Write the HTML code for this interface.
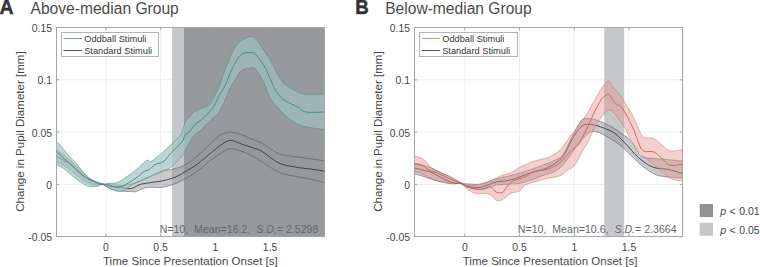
<!DOCTYPE html>
<html><head><meta charset="utf-8">
<style>
html,body{margin:0;padding:0;background:#fff;}
body{width:760px;height:267px;position:relative;overflow:hidden;font-family:"Liberation Sans",sans-serif;}
svg{position:absolute;left:0;top:0;}
text{font-family:"Liberation Sans",sans-serif;}
.tk{font-size:10.4px;fill:#474747;}
.big{font-weight:bold;font-size:19px;fill:#333;}
.title{font-size:15.6px;fill:#4b4b4b;}
.xl{font-size:11.55px;fill:#474747;}
.lg{font-size:9.25px;fill:#363636;}
.ann{font-size:10.6px;fill:#66676a;white-space:pre;}
.pl{font-size:10.5px;fill:#474747;}
</style></head><body>
<svg width="760" height="267" viewBox="0 0 760 267"><rect width="760" height="267" fill="#fff"/><line x1="105.8" y1="27.5" x2="105.8" y2="236.5" stroke="#eeeeee" stroke-width="1"/>
<line x1="160.6" y1="27.5" x2="160.6" y2="236.5" stroke="#eeeeee" stroke-width="1"/>
<line x1="215.3" y1="27.5" x2="215.3" y2="236.5" stroke="#eeeeee" stroke-width="1"/>
<line x1="270.1" y1="27.5" x2="270.1" y2="236.5" stroke="#eeeeee" stroke-width="1"/>
<line x1="56.5" y1="79.8" x2="324.5" y2="79.8" stroke="#eeeeee" stroke-width="1"/>
<line x1="56.5" y1="132.1" x2="324.5" y2="132.1" stroke="#eeeeee" stroke-width="1"/>
<line x1="56.5" y1="184.4" x2="324.5" y2="184.4" stroke="#eeeeee" stroke-width="1"/><rect x="172" y="27" width="12" height="210" fill="#c6c7ca"/><rect x="184" y="27" width="140.5" height="210" fill="#969a9c"/><line x1="105.8" y1="236.5" x2="105.8" y2="233.8" stroke="#a6a6a6" stroke-width="1"/>
<line x1="105.8" y1="27.5" x2="105.8" y2="30.2" stroke="#a6a6a6" stroke-width="1"/>
<line x1="160.6" y1="236.5" x2="160.6" y2="233.8" stroke="#a6a6a6" stroke-width="1"/>
<line x1="160.6" y1="27.5" x2="160.6" y2="30.2" stroke="#a6a6a6" stroke-width="1"/>
<line x1="215.3" y1="236.5" x2="215.3" y2="233.8" stroke="#a6a6a6" stroke-width="1"/>
<line x1="215.3" y1="27.5" x2="215.3" y2="30.2" stroke="#a6a6a6" stroke-width="1"/>
<line x1="270.1" y1="236.5" x2="270.1" y2="233.8" stroke="#a6a6a6" stroke-width="1"/>
<line x1="270.1" y1="27.5" x2="270.1" y2="30.2" stroke="#a6a6a6" stroke-width="1"/>
<line x1="56.5" y1="27.5" x2="59.2" y2="27.5" stroke="#a6a6a6" stroke-width="1"/>
<line x1="324.5" y1="27.5" x2="321.8" y2="27.5" stroke="#a6a6a6" stroke-width="1"/>
<line x1="56.5" y1="79.8" x2="59.2" y2="79.8" stroke="#a6a6a6" stroke-width="1"/>
<line x1="324.5" y1="79.8" x2="321.8" y2="79.8" stroke="#a6a6a6" stroke-width="1"/>
<line x1="56.5" y1="132.1" x2="59.2" y2="132.1" stroke="#a6a6a6" stroke-width="1"/>
<line x1="324.5" y1="132.1" x2="321.8" y2="132.1" stroke="#a6a6a6" stroke-width="1"/>
<line x1="56.5" y1="184.4" x2="59.2" y2="184.4" stroke="#a6a6a6" stroke-width="1"/>
<line x1="324.5" y1="184.4" x2="321.8" y2="184.4" stroke="#a6a6a6" stroke-width="1"/>
<line x1="56.5" y1="236.7" x2="59.2" y2="236.7" stroke="#a6a6a6" stroke-width="1"/>
<line x1="324.5" y1="236.7" x2="321.8" y2="236.7" stroke="#a6a6a6" stroke-width="1"/>
<rect x="56.5" y="27.5" width="268.0" height="209" fill="none" stroke="#a6a6a6" stroke-width="1"/><text x="52.0" y="31.9" text-anchor="end" class="tk">0.15</text>
<text x="52.0" y="84.2" text-anchor="end" class="tk">0.1</text>
<text x="52.0" y="136.5" text-anchor="end" class="tk">0.05</text>
<text x="52.0" y="188.8" text-anchor="end" class="tk">0</text>
<text x="52.0" y="241.1" text-anchor="end" class="tk">-0.05</text><text x="105.8" y="250.6" text-anchor="middle" class="tk">0</text>
<text x="160.6" y="250.6" text-anchor="middle" class="tk">0.5</text>
<text x="215.3" y="250.6" text-anchor="middle" class="tk">1</text>
<text x="270.1" y="250.6" text-anchor="middle" class="tk">1.5</text><path d="M56.30,149.50 L58.46,151.11 L61.55,153.41 L65.09,156.12 L68.60,159.00 L72.18,162.22 L76.01,165.84 L79.73,169.42 L83.00,172.50 L85.60,174.99 L87.75,177.12 L89.78,178.95 L92.00,180.50 L94.54,181.77 L97.22,182.75 L99.89,183.48 L102.40,184.00 L104.62,184.21 L106.68,184.12 L108.74,183.98 L111.00,184.00 L113.56,184.34 L116.30,184.84 L119.09,185.30 L121.80,185.50 L124.28,185.44 L126.65,185.22 L129.14,184.76 L132.00,184.00 L135.39,182.84 L139.14,181.34 L143.02,179.68 L146.80,178.00 L150.48,176.21 L154.15,174.26 L157.75,172.43 L161.20,171.00 L164.44,170.18 L167.52,169.79 L170.55,169.47 L173.60,168.90 L176.72,168.06 L179.86,167.11 L182.97,165.96 L186.00,164.50 L188.90,162.69 L191.71,160.58 L194.51,158.26 L197.40,155.80 L200.46,153.11 L203.61,150.19 L206.74,147.25 L209.70,144.50 L212.44,141.89 L215.03,139.34 L217.55,137.04 L220.10,135.20 L222.64,133.84 L225.13,132.88 L227.69,132.29 L230.40,132.10 L233.33,132.39 L236.42,133.13 L239.57,134.13 L242.70,135.20 L245.91,136.40 L249.21,137.81 L252.36,139.21 L255.10,140.40 L257.07,141.13 L258.49,141.58 L260.05,142.19 L262.40,143.40 L265.88,145.63 L270.07,148.54 L274.56,151.46 L278.90,153.70 L283.02,155.00 L287.15,155.76 L291.27,156.26 L295.40,156.80 L299.62,157.40 L303.90,157.92 L308.06,158.41 L311.90,158.90 L315.60,159.45 L319.18,160.03 L322.25,160.54 L324.40,160.90 L324.40,182.60 L322.25,182.04 L319.18,181.24 L315.60,180.35 L311.90,179.50 L308.06,178.75 L303.90,178.01 L299.62,177.25 L295.40,176.40 L291.27,175.59 L287.15,174.80 L283.02,173.78 L278.90,172.30 L274.68,170.09 L270.39,167.35 L266.24,164.51 L262.40,162.00 L258.89,159.86 L255.62,157.89 L252.65,156.15 L250.00,154.70 L247.93,153.65 L246.34,152.94 L244.76,152.36 L242.70,151.70 L239.93,150.74 L236.74,149.64 L233.45,148.79 L230.40,148.60 L227.69,149.27 L225.13,150.56 L222.64,152.16 L220.10,153.80 L217.55,155.39 L215.03,157.08 L212.44,158.94 L209.70,161.00 L206.76,163.42 L203.68,166.12 L200.53,168.84 L197.40,171.30 L194.28,173.46 L191.14,175.46 L188.03,177.30 L185.00,179.00 L182.10,180.55 L179.30,181.94 L176.50,183.19 L173.60,184.30 L170.62,185.30 L167.59,186.18 L164.46,186.89 L161.20,187.40 L157.66,187.52 L153.90,187.34 L150.19,187.18 L146.80,187.40 L143.73,188.23 L140.86,189.45 L138.26,190.67 L136.00,191.50 L134.30,191.80 L133.06,191.79 L131.86,191.63 L130.30,191.50 L128.24,191.45 L125.92,191.38 L123.46,191.24 L121.00,191.00 L118.52,190.67 L115.96,190.26 L113.42,189.73 L111.00,189.00 L108.70,187.88 L106.48,186.45 L104.36,185.12 L102.40,184.30 L100.80,184.34 L99.47,184.95 L98.01,185.53 L96.00,185.50 L93.26,184.75 L90.04,183.58 L86.55,181.99 L83.00,180.00 L79.31,177.32 L75.42,174.03 L71.56,170.73 L68.00,168.00 L64.57,165.94 L61.21,164.25 L58.32,162.94 L56.30,162.00 Z" fill="rgba(150,150,153,0.5)" stroke="none"/>
<path d="M56.30,149.50 L58.46,151.11 L61.55,153.41 L65.09,156.12 L68.60,159.00 L72.18,162.22 L76.01,165.84 L79.73,169.42 L83.00,172.50 L85.60,174.99 L87.75,177.12 L89.78,178.95 L92.00,180.50 L94.54,181.77 L97.22,182.75 L99.89,183.48 L102.40,184.00 L104.62,184.21 L106.68,184.12 L108.74,183.98 L111.00,184.00 L113.56,184.34 L116.30,184.84 L119.09,185.30 L121.80,185.50 L124.28,185.44 L126.65,185.22 L129.14,184.76 L132.00,184.00 L135.39,182.84 L139.14,181.34 L143.02,179.68 L146.80,178.00 L150.48,176.21 L154.15,174.26 L157.75,172.43 L161.20,171.00 L164.44,170.18 L167.52,169.79 L170.55,169.47 L173.60,168.90 L176.72,168.06 L179.86,167.11 L182.97,165.96 L186.00,164.50 L188.90,162.69 L191.71,160.58 L194.51,158.26 L197.40,155.80 L200.46,153.11 L203.61,150.19 L206.74,147.25 L209.70,144.50 L212.44,141.89 L215.03,139.34 L217.55,137.04 L220.10,135.20 L222.64,133.84 L225.13,132.88 L227.69,132.29 L230.40,132.10 L233.33,132.39 L236.42,133.13 L239.57,134.13 L242.70,135.20 L245.91,136.40 L249.21,137.81 L252.36,139.21 L255.10,140.40 L257.07,141.13 L258.49,141.58 L260.05,142.19 L262.40,143.40 L265.88,145.63 L270.07,148.54 L274.56,151.46 L278.90,153.70 L283.02,155.00 L287.15,155.76 L291.27,156.26 L295.40,156.80 L299.62,157.40 L303.90,157.92 L308.06,158.41 L311.90,158.90 L315.60,159.45 L319.18,160.03 L322.25,160.54 L324.40,160.90" fill="none" stroke="rgba(70,70,72,0.6)" stroke-width="0.8"/>
<path d="M56.30,162.00 L58.32,162.94 L61.21,164.25 L64.57,165.94 L68.00,168.00 L71.56,170.73 L75.42,174.03 L79.31,177.32 L83.00,180.00 L86.55,181.99 L90.04,183.58 L93.26,184.75 L96.00,185.50 L98.01,185.53 L99.47,184.95 L100.80,184.34 L102.40,184.30 L104.36,185.12 L106.48,186.45 L108.70,187.88 L111.00,189.00 L113.42,189.73 L115.96,190.26 L118.52,190.67 L121.00,191.00 L123.46,191.24 L125.92,191.38 L128.24,191.45 L130.30,191.50 L131.86,191.63 L133.06,191.79 L134.30,191.80 L136.00,191.50 L138.26,190.67 L140.86,189.45 L143.73,188.23 L146.80,187.40 L150.19,187.18 L153.90,187.34 L157.66,187.52 L161.20,187.40 L164.46,186.89 L167.59,186.18 L170.62,185.30 L173.60,184.30 L176.50,183.19 L179.30,181.94 L182.10,180.55 L185.00,179.00 L188.03,177.30 L191.14,175.46 L194.28,173.46 L197.40,171.30 L200.53,168.84 L203.68,166.12 L206.76,163.42 L209.70,161.00 L212.44,158.94 L215.03,157.08 L217.55,155.39 L220.10,153.80 L222.64,152.16 L225.13,150.56 L227.69,149.27 L230.40,148.60 L233.45,148.79 L236.74,149.64 L239.93,150.74 L242.70,151.70 L244.76,152.36 L246.34,152.94 L247.93,153.65 L250.00,154.70 L252.65,156.15 L255.62,157.89 L258.89,159.86 L262.40,162.00 L266.24,164.51 L270.39,167.35 L274.68,170.09 L278.90,172.30 L283.02,173.78 L287.15,174.80 L291.27,175.59 L295.40,176.40 L299.62,177.25 L303.90,178.01 L308.06,178.75 L311.90,179.50 L315.60,180.35 L319.18,181.24 L322.25,182.04 L324.40,182.60" fill="none" stroke="rgba(70,70,72,0.6)" stroke-width="0.8"/>
<path d="M56.30,156.40 L58.78,157.73 L62.34,159.61 L66.40,161.91 L70.40,164.50 L74.39,167.66 L78.59,171.36 L82.75,175.00 L86.60,178.00 L90.22,180.23 L93.71,181.99 L96.80,183.34 L99.20,184.30 L100.53,184.69 L101.05,184.56 L101.44,184.30 L102.40,184.30 L104.21,184.73 L106.47,185.35 L108.84,185.97 L111.00,186.40 L112.81,186.50 L114.47,186.40 L116.12,186.30 L117.90,186.40 L119.93,186.83 L122.09,187.47 L124.24,188.09 L126.20,188.50 L127.85,188.68 L129.31,188.72 L130.76,188.58 L132.40,188.20 L134.21,187.43 L136.11,186.36 L138.21,185.23 L140.60,184.30 L143.40,183.67 L146.54,183.19 L149.80,182.76 L153.00,182.30 L156.10,181.83 L159.21,181.38 L162.31,180.87 L165.40,180.20 L168.60,179.32 L171.87,178.29 L174.98,177.19 L177.70,176.10 L179.76,175.12 L181.34,174.17 L182.93,173.12 L185.00,171.80 L187.74,170.18 L190.89,168.33 L194.19,166.29 L197.40,164.10 L200.53,161.66 L203.68,158.99 L206.76,156.30 L209.70,153.80 L212.44,151.51 L215.03,149.33 L217.55,147.30 L220.10,145.50 L222.64,143.78 L225.13,142.18 L227.69,140.95 L230.40,140.40 L233.33,140.78 L236.42,141.88 L239.57,143.26 L242.70,144.50 L245.91,145.55 L249.21,146.62 L252.36,147.65 L255.10,148.60 L257.07,149.23 L258.49,149.64 L260.05,150.29 L262.40,151.60 L265.88,154.03 L270.07,157.23 L274.56,160.47 L278.90,163.00 L283.02,164.59 L287.15,165.63 L291.27,166.39 L295.40,167.10 L299.62,167.77 L303.90,168.28 L308.06,168.73 L311.90,169.20 L315.60,169.75 L319.18,170.33 L322.25,170.84 L324.40,171.20" fill="none" stroke="#3f3f3f" stroke-width="0.95"/>
<path d="M56.30,141.50 L57.35,142.46 L58.86,143.83 L60.57,145.46 L62.20,147.20 L63.68,149.09 L65.16,151.19 L66.70,153.37 L68.40,155.50 L70.31,157.51 L72.37,159.47 L74.50,161.50 L76.60,163.70 L78.67,166.22 L80.75,168.97 L82.83,171.66 L84.90,174.00 L86.93,175.89 L88.94,177.51 L90.98,178.91 L93.10,180.20 L95.40,181.42 L97.81,182.53 L100.20,183.42 L102.40,184.00 L104.32,184.15 L106.06,183.95 L107.77,183.60 L109.60,183.30 L111.60,183.17 L113.69,183.08 L115.81,182.85 L117.90,182.30 L119.92,181.34 L121.90,180.09 L123.93,178.64 L126.10,177.10 L128.43,175.50 L130.89,173.78 L133.42,171.92 L136.00,169.90 L138.79,167.42 L141.76,164.58 L144.54,162.00 L146.80,160.30 L148.17,160.04 L148.94,160.75 L149.68,161.51 L151.00,161.40 L153.13,160.07 L155.72,158.05 L158.50,155.70 L161.20,153.40 L163.86,151.09 L166.60,148.63 L169.21,146.23 L171.50,144.10 L173.41,142.28 L175.04,140.66 L176.45,139.23 L177.70,138.00 L178.74,137.17 L179.55,136.68 L180.26,136.10 L181.00,135.00 L181.79,133.08 L182.58,130.62 L183.33,128.11 L184.00,126.00 L184.41,124.59 L184.62,123.56 L185.03,122.51 L186.00,121.00 L187.79,118.69 L190.16,115.88 L192.69,113.12 L195.00,111.00 L197.02,109.76 L198.94,109.06 L200.77,108.59 L202.50,108.00 L204.14,107.32 L205.69,106.69 L207.14,105.96 L208.50,105.00 L209.73,103.78 L210.84,102.38 L211.91,100.78 L213.00,99.00 L214.18,96.84 L215.41,94.38 L216.55,91.97 L217.50,90.00 L218.05,89.05 L218.33,88.75 L218.69,88.08 L219.50,86.00 L220.93,81.87 L222.76,76.35 L224.79,70.41 L226.80,65.00 L228.78,60.14 L230.84,55.40 L232.92,51.06 L235.00,47.40 L237.02,44.55 L239.02,42.33 L241.08,40.60 L243.30,39.20 L245.78,37.96 L248.45,36.99 L251.12,36.61 L253.60,37.10 L255.82,38.75 L257.88,41.34 L259.88,44.39 L261.90,47.40 L263.90,50.17 L265.84,52.98 L267.87,56.10 L270.10,59.80 L272.63,64.58 L275.37,70.16 L278.17,75.61 L280.90,80.00 L283.51,82.96 L286.08,85.04 L288.64,86.64 L291.20,88.20 L293.77,89.81 L296.34,91.25 L298.92,92.47 L301.50,93.40 L304.04,93.98 L306.56,94.25 L309.15,94.35 L311.90,94.40 L315.17,94.39 L318.80,94.26 L322.10,94.10 L324.40,94.00 L324.40,129.50 L320.47,129.02 L314.78,128.34 L308.70,127.47 L303.60,126.40 L299.86,125.14 L296.74,123.69 L293.96,122.04 L291.20,120.20 L288.48,118.16 L285.92,115.93 L283.43,113.51 L280.90,110.90 L278.24,108.12 L275.53,105.17 L272.92,102.01 L270.60,98.60 L268.71,94.78 L267.12,90.62 L265.60,86.42 L263.90,82.50 L261.91,78.67 L259.77,74.86 L257.64,71.52 L255.70,69.10 L254.06,67.86 L252.62,67.53 L251.16,67.70 L249.50,68.00 L247.50,68.30 L245.29,68.81 L243.06,69.66 L241.00,71.00 L239.13,73.05 L237.36,75.69 L235.71,78.48 L234.20,81.00 L232.82,83.20 L231.57,85.28 L230.46,87.22 L229.50,89.00 L228.81,90.43 L228.34,91.59 L227.87,92.83 L227.20,94.50 L226.25,96.81 L225.13,99.53 L223.93,102.36 L222.70,105.00 L221.50,107.41 L220.29,109.74 L218.98,111.95 L217.50,114.00 L215.82,115.78 L213.99,117.33 L212.03,118.90 L210.00,120.70 L207.80,122.94 L205.44,125.46 L203.11,127.92 L201.00,130.00 L199.22,131.39 L197.66,132.33 L196.14,133.36 L194.50,135.00 L192.64,137.58 L190.66,140.75 L188.73,144.05 L187.00,147.00 L185.68,149.42 L184.63,151.57 L183.49,153.69 L181.90,156.00 L179.67,158.70 L177.03,161.64 L174.22,164.45 L171.50,166.80 L169.01,168.47 L166.60,169.69 L164.06,170.77 L161.20,172.00 L157.89,173.46 L154.26,174.99 L150.50,176.55 L146.80,178.10 L143.06,179.64 L139.23,181.19 L135.58,182.75 L132.40,184.30 L129.82,185.97 L127.68,187.72 L125.80,189.32 L124.00,190.50 L122.36,191.21 L120.94,191.58 L119.53,191.65 L117.90,191.50 L115.95,191.07 L113.82,190.34 L111.65,189.45 L109.60,188.50 L107.68,187.32 L105.81,185.91 L104.03,184.67 L102.40,184.00 L101.03,184.17 L99.86,184.92 L98.66,185.81 L97.20,186.40 L95.36,186.66 L93.29,186.81 L91.13,186.74 L89.00,186.40 L86.93,185.71 L84.85,184.74 L82.77,183.57 L80.70,182.30 L78.65,180.92 L76.60,179.39 L74.55,177.77 L72.50,176.10 L70.42,174.30 L68.33,172.38 L66.25,170.51 L64.20,168.90 L62.01,167.54 L59.73,166.35 L57.71,165.38 L56.30,164.70 Z" fill="rgba(161,193,193,0.69)" stroke="none"/>
<path d="M56.30,141.50 L57.35,142.46 L58.86,143.83 L60.57,145.46 L62.20,147.20 L63.68,149.09 L65.16,151.19 L66.70,153.37 L68.40,155.50 L70.31,157.51 L72.37,159.47 L74.50,161.50 L76.60,163.70 L78.67,166.22 L80.75,168.97 L82.83,171.66 L84.90,174.00 L86.93,175.89 L88.94,177.51 L90.98,178.91 L93.10,180.20 L95.40,181.42 L97.81,182.53 L100.20,183.42 L102.40,184.00 L104.32,184.15 L106.06,183.95 L107.77,183.60 L109.60,183.30 L111.60,183.17 L113.69,183.08 L115.81,182.85 L117.90,182.30 L119.92,181.34 L121.90,180.09 L123.93,178.64 L126.10,177.10 L128.43,175.50 L130.89,173.78 L133.42,171.92 L136.00,169.90 L138.79,167.42 L141.76,164.58 L144.54,162.00 L146.80,160.30 L148.17,160.04 L148.94,160.75 L149.68,161.51 L151.00,161.40 L153.13,160.07 L155.72,158.05 L158.50,155.70 L161.20,153.40 L163.86,151.09 L166.60,148.63 L169.21,146.23 L171.50,144.10 L173.41,142.28 L175.04,140.66 L176.45,139.23 L177.70,138.00 L178.74,137.17 L179.55,136.68 L180.26,136.10 L181.00,135.00 L181.79,133.08 L182.58,130.62 L183.33,128.11 L184.00,126.00 L184.41,124.59 L184.62,123.56 L185.03,122.51 L186.00,121.00 L187.79,118.69 L190.16,115.88 L192.69,113.12 L195.00,111.00 L197.02,109.76 L198.94,109.06 L200.77,108.59 L202.50,108.00 L204.14,107.32 L205.69,106.69 L207.14,105.96 L208.50,105.00 L209.73,103.78 L210.84,102.38 L211.91,100.78 L213.00,99.00 L214.18,96.84 L215.41,94.38 L216.55,91.97 L217.50,90.00 L218.05,89.05 L218.33,88.75 L218.69,88.08 L219.50,86.00 L220.93,81.87 L222.76,76.35 L224.79,70.41 L226.80,65.00 L228.78,60.14 L230.84,55.40 L232.92,51.06 L235.00,47.40 L237.02,44.55 L239.02,42.33 L241.08,40.60 L243.30,39.20 L245.78,37.96 L248.45,36.99 L251.12,36.61 L253.60,37.10 L255.82,38.75 L257.88,41.34 L259.88,44.39 L261.90,47.40 L263.90,50.17 L265.84,52.98 L267.87,56.10 L270.10,59.80 L272.63,64.58 L275.37,70.16 L278.17,75.61 L280.90,80.00 L283.51,82.96 L286.08,85.04 L288.64,86.64 L291.20,88.20 L293.77,89.81 L296.34,91.25 L298.92,92.47 L301.50,93.40 L304.04,93.98 L306.56,94.25 L309.15,94.35 L311.90,94.40 L315.17,94.39 L318.80,94.26 L322.10,94.10 L324.40,94.00" fill="none" stroke="rgba(60,135,132,0.6)" stroke-width="0.8"/>
<path d="M56.30,164.70 L57.71,165.38 L59.73,166.35 L62.01,167.54 L64.20,168.90 L66.25,170.51 L68.33,172.38 L70.42,174.30 L72.50,176.10 L74.55,177.77 L76.60,179.39 L78.65,180.92 L80.70,182.30 L82.77,183.57 L84.85,184.74 L86.93,185.71 L89.00,186.40 L91.13,186.74 L93.29,186.81 L95.36,186.66 L97.20,186.40 L98.66,185.81 L99.86,184.92 L101.03,184.17 L102.40,184.00 L104.03,184.67 L105.81,185.91 L107.68,187.32 L109.60,188.50 L111.65,189.45 L113.82,190.34 L115.95,191.07 L117.90,191.50 L119.53,191.65 L120.94,191.58 L122.36,191.21 L124.00,190.50 L125.80,189.32 L127.68,187.72 L129.82,185.97 L132.40,184.30 L135.58,182.75 L139.23,181.19 L143.06,179.64 L146.80,178.10 L150.50,176.55 L154.26,174.99 L157.89,173.46 L161.20,172.00 L164.06,170.77 L166.60,169.69 L169.01,168.47 L171.50,166.80 L174.22,164.45 L177.03,161.64 L179.67,158.70 L181.90,156.00 L183.49,153.69 L184.63,151.57 L185.68,149.42 L187.00,147.00 L188.73,144.05 L190.66,140.75 L192.64,137.58 L194.50,135.00 L196.14,133.36 L197.66,132.33 L199.22,131.39 L201.00,130.00 L203.11,127.92 L205.44,125.46 L207.80,122.94 L210.00,120.70 L212.03,118.90 L213.99,117.33 L215.82,115.78 L217.50,114.00 L218.98,111.95 L220.29,109.74 L221.50,107.41 L222.70,105.00 L223.93,102.36 L225.13,99.53 L226.25,96.81 L227.20,94.50 L227.87,92.83 L228.34,91.59 L228.81,90.43 L229.50,89.00 L230.46,87.22 L231.57,85.28 L232.82,83.20 L234.20,81.00 L235.71,78.48 L237.36,75.69 L239.13,73.05 L241.00,71.00 L243.06,69.66 L245.29,68.81 L247.50,68.30 L249.50,68.00 L251.16,67.70 L252.62,67.53 L254.06,67.86 L255.70,69.10 L257.64,71.52 L259.77,74.86 L261.91,78.67 L263.90,82.50 L265.60,86.42 L267.12,90.62 L268.71,94.78 L270.60,98.60 L272.92,102.01 L275.53,105.17 L278.24,108.12 L280.90,110.90 L283.43,113.51 L285.92,115.93 L288.48,118.16 L291.20,120.20 L293.96,122.04 L296.74,123.69 L299.86,125.14 L303.60,126.40 L308.70,127.47 L314.78,128.34 L320.47,129.02 L324.40,129.50" fill="none" stroke="rgba(60,135,132,0.6)" stroke-width="0.8"/>
<path d="M56.30,151.30 L57.71,152.61 L59.73,154.50 L62.01,156.61 L64.20,158.60 L66.25,160.38 L68.33,162.14 L70.42,163.93 L72.50,165.80 L74.55,167.85 L76.60,170.03 L78.65,172.14 L80.70,174.00 L82.77,175.56 L84.85,176.92 L86.93,178.12 L89.00,179.20 L91.13,180.16 L93.29,180.97 L95.36,181.67 L97.20,182.30 L98.66,182.83 L99.86,183.26 L101.03,183.63 L102.40,184.00 L104.03,184.36 L105.81,184.68 L107.68,185.01 L109.60,185.40 L111.60,185.98 L113.69,186.68 L115.81,187.24 L117.90,187.40 L119.92,187.06 L121.90,186.36 L123.93,185.41 L126.10,184.30 L128.48,182.99 L131.02,181.45 L133.57,179.79 L136.00,178.10 L138.36,176.25 L140.71,174.23 L142.87,172.37 L144.70,171.00 L146.02,170.40 L146.96,170.33 L147.82,170.32 L148.90,169.90 L150.24,168.84 L151.69,167.43 L153.28,165.95 L155.00,164.70 L156.92,163.92 L159.02,163.40 L161.18,162.75 L163.30,161.60 L165.31,159.75 L167.27,157.45 L169.30,154.92 L171.50,152.40 L174.12,149.83 L177.02,147.12 L179.76,144.48 L181.90,142.10 L183.13,140.03 L183.76,138.17 L184.23,136.50 L185.00,135.00 L186.23,133.77 L187.66,132.79 L189.14,131.84 L190.50,130.70 L191.59,129.30 L192.53,127.76 L193.58,126.14 L195.00,124.50 L197.00,122.84 L199.41,121.13 L201.86,119.41 L204.00,117.70 L205.75,116.00 L207.28,114.30 L208.68,112.62 L210.00,111.00 L211.23,109.52 L212.34,108.14 L213.41,106.69 L214.50,105.00 L215.64,102.89 L216.80,100.50 L217.93,98.11 L219.00,96.00 L220.00,94.29 L220.94,92.81 L221.84,91.43 L222.70,90.00 L223.42,88.76 L224.03,87.69 L224.75,86.27 L225.80,84.00 L227.29,80.42 L229.08,75.90 L231.03,71.18 L233.00,67.00 L234.93,63.33 L236.91,59.86 L238.98,56.86 L241.20,54.60 L243.72,53.23 L246.47,52.57 L249.16,52.43 L251.50,52.60 L253.29,53.00 L254.72,53.75 L256.10,54.95 L257.70,56.70 L259.71,59.25 L261.95,62.48 L264.14,65.91 L266.00,69.10 L267.37,71.90 L268.43,74.55 L269.42,77.20 L270.60,80.00 L271.99,83.09 L273.48,86.37 L275.07,89.56 L276.80,92.40 L278.61,94.79 L280.51,96.89 L282.61,98.79 L285.00,100.60 L287.90,102.31 L291.19,103.89 L294.49,105.37 L297.40,106.80 L299.52,108.29 L301.16,109.79 L302.99,111.09 L305.70,112.00 L310.08,112.37 L315.57,112.33 L320.80,112.12 L324.40,112.00" fill="none" stroke="#3b8e89" stroke-width="0.95"/>
<line x1="464.8" y1="27.5" x2="464.8" y2="236.5" stroke="#eeeeee" stroke-width="1"/>
<line x1="519.5" y1="27.5" x2="519.5" y2="236.5" stroke="#eeeeee" stroke-width="1"/>
<line x1="574.3" y1="27.5" x2="574.3" y2="236.5" stroke="#eeeeee" stroke-width="1"/>
<line x1="629.0" y1="27.5" x2="629.0" y2="236.5" stroke="#eeeeee" stroke-width="1"/>
<line x1="414.5" y1="79.8" x2="682.5" y2="79.8" stroke="#eeeeee" stroke-width="1"/>
<line x1="414.5" y1="132.1" x2="682.5" y2="132.1" stroke="#eeeeee" stroke-width="1"/>
<line x1="414.5" y1="184.4" x2="682.5" y2="184.4" stroke="#eeeeee" stroke-width="1"/><rect x="604.2" y="27" width="20" height="210" fill="#c6c7ca"/><line x1="464.8" y1="236.5" x2="464.8" y2="233.8" stroke="#a6a6a6" stroke-width="1"/>
<line x1="464.8" y1="27.5" x2="464.8" y2="30.2" stroke="#a6a6a6" stroke-width="1"/>
<line x1="519.5" y1="236.5" x2="519.5" y2="233.8" stroke="#a6a6a6" stroke-width="1"/>
<line x1="519.5" y1="27.5" x2="519.5" y2="30.2" stroke="#a6a6a6" stroke-width="1"/>
<line x1="574.3" y1="236.5" x2="574.3" y2="233.8" stroke="#a6a6a6" stroke-width="1"/>
<line x1="574.3" y1="27.5" x2="574.3" y2="30.2" stroke="#a6a6a6" stroke-width="1"/>
<line x1="629.0" y1="236.5" x2="629.0" y2="233.8" stroke="#a6a6a6" stroke-width="1"/>
<line x1="629.0" y1="27.5" x2="629.0" y2="30.2" stroke="#a6a6a6" stroke-width="1"/>
<line x1="414.5" y1="27.5" x2="417.2" y2="27.5" stroke="#a6a6a6" stroke-width="1"/>
<line x1="682.5" y1="27.5" x2="679.8" y2="27.5" stroke="#a6a6a6" stroke-width="1"/>
<line x1="414.5" y1="79.8" x2="417.2" y2="79.8" stroke="#a6a6a6" stroke-width="1"/>
<line x1="682.5" y1="79.8" x2="679.8" y2="79.8" stroke="#a6a6a6" stroke-width="1"/>
<line x1="414.5" y1="132.1" x2="417.2" y2="132.1" stroke="#a6a6a6" stroke-width="1"/>
<line x1="682.5" y1="132.1" x2="679.8" y2="132.1" stroke="#a6a6a6" stroke-width="1"/>
<line x1="414.5" y1="184.4" x2="417.2" y2="184.4" stroke="#a6a6a6" stroke-width="1"/>
<line x1="682.5" y1="184.4" x2="679.8" y2="184.4" stroke="#a6a6a6" stroke-width="1"/>
<line x1="414.5" y1="236.7" x2="417.2" y2="236.7" stroke="#a6a6a6" stroke-width="1"/>
<line x1="682.5" y1="236.7" x2="679.8" y2="236.7" stroke="#a6a6a6" stroke-width="1"/>
<rect x="414.5" y="27.5" width="268.0" height="209" fill="none" stroke="#a6a6a6" stroke-width="1"/><text x="410.0" y="31.9" text-anchor="end" class="tk">0.15</text>
<text x="410.0" y="84.2" text-anchor="end" class="tk">0.1</text>
<text x="410.0" y="136.5" text-anchor="end" class="tk">0.05</text>
<text x="410.0" y="188.8" text-anchor="end" class="tk">0</text>
<text x="410.0" y="241.1" text-anchor="end" class="tk">-0.05</text><text x="464.8" y="250.6" text-anchor="middle" class="tk">0</text>
<text x="519.5" y="250.6" text-anchor="middle" class="tk">0.5</text>
<text x="574.3" y="250.6" text-anchor="middle" class="tk">1</text>
<text x="629.0" y="250.6" text-anchor="middle" class="tk">1.5</text><path d="M415.00,163.00 L417.70,163.75 L421.56,164.81 L425.90,166.09 L430.00,167.50 L433.74,169.05 L437.47,170.77 L441.22,172.61 L445.00,174.50 L448.96,176.63 L453.04,178.96 L456.95,181.11 L460.40,182.70 L463.15,183.54 L465.41,183.86 L467.57,183.93 L470.00,184.00 L472.82,184.21 L475.82,184.40 L478.92,184.39 L482.00,184.00 L485.22,182.99 L488.56,181.52 L491.73,180.01 L494.40,178.90 L496.05,178.44 L496.99,178.35 L498.18,178.26 L500.60,177.80 L504.74,176.86 L509.99,175.63 L515.71,174.22 L521.20,172.70 L526.43,171.07 L531.71,169.28 L536.91,167.41 L541.90,165.50 L546.88,163.59 L551.84,161.64 L556.35,159.62 L560.00,157.50 L562.43,155.34 L563.95,153.12 L565.12,150.73 L566.50,148.00 L568.20,144.77 L569.93,141.16 L571.67,137.46 L573.40,134.00 L575.15,130.66 L576.92,127.34 L578.63,124.36 L580.20,122.00 L581.42,120.41 L582.39,119.39 L583.51,118.81 L585.20,118.50 L587.60,118.44 L590.48,118.71 L593.67,119.29 L597.00,120.20 L600.61,121.54 L604.54,123.27 L608.43,125.17 L611.90,127.00 L614.86,128.76 L617.49,130.55 L619.91,132.32 L622.20,134.00 L624.35,135.48 L626.32,136.83 L628.18,138.26 L630.00,140.00 L631.78,142.22 L633.50,144.77 L635.17,147.36 L636.80,149.70 L638.10,151.82 L639.17,153.83 L640.60,155.60 L643.00,157.00 L646.70,157.87 L651.33,158.32 L656.41,158.62 L661.50,159.00 L667.07,159.57 L673.16,160.18 L678.67,160.72 L682.50,161.10 L682.50,178.00 L678.90,177.77 L673.69,177.44 L668.16,177.02 L663.60,176.50 L660.52,176.03 L658.17,175.56 L655.96,174.81 L653.30,173.50 L650.04,171.56 L646.50,169.13 L642.76,166.29 L638.90,163.10 L634.74,159.23 L630.29,154.75 L625.98,150.37 L622.20,146.80 L619.21,144.35 L616.75,142.59 L614.44,141.14 L611.90,139.60 L608.95,137.79 L605.81,135.94 L602.74,134.28 L600.00,133.00 L597.70,132.13 L595.68,131.56 L593.82,131.33 L592.00,131.50 L590.25,132.07 L588.62,133.03 L586.98,134.35 L585.20,136.00 L583.41,137.83 L581.62,139.91 L579.53,142.53 L576.80,146.00 L573.22,150.99 L569.01,157.14 L564.49,163.22 L560.00,168.00 L555.63,170.96 L551.19,172.83 L546.64,174.23 L541.90,175.80 L537.00,177.76 L531.96,179.76 L526.72,181.57 L521.20,183.00 L515.06,183.83 L508.44,184.22 L502.02,184.53 L496.50,185.10 L492.19,186.18 L488.68,187.52 L485.56,188.76 L482.40,189.50 L479.11,189.61 L475.92,189.30 L472.86,188.72 L470.00,188.00 L467.39,187.00 L464.99,185.70 L462.69,184.45 L460.40,183.60 L458.25,183.38 L456.23,183.56 L454.05,183.79 L451.40,183.70 L448.06,183.20 L444.23,182.49 L440.26,181.63 L436.50,180.70 L432.90,179.63 L429.32,178.40 L425.96,177.20 L423.00,176.20 L420.43,175.44 L418.16,174.82 L416.31,174.34 L415.00,174.00 Z" fill="rgba(150,150,153,0.5)" stroke="none"/>
<path d="M415.00,163.00 L417.70,163.75 L421.56,164.81 L425.90,166.09 L430.00,167.50 L433.74,169.05 L437.47,170.77 L441.22,172.61 L445.00,174.50 L448.96,176.63 L453.04,178.96 L456.95,181.11 L460.40,182.70 L463.15,183.54 L465.41,183.86 L467.57,183.93 L470.00,184.00 L472.82,184.21 L475.82,184.40 L478.92,184.39 L482.00,184.00 L485.22,182.99 L488.56,181.52 L491.73,180.01 L494.40,178.90 L496.05,178.44 L496.99,178.35 L498.18,178.26 L500.60,177.80 L504.74,176.86 L509.99,175.63 L515.71,174.22 L521.20,172.70 L526.43,171.07 L531.71,169.28 L536.91,167.41 L541.90,165.50 L546.88,163.59 L551.84,161.64 L556.35,159.62 L560.00,157.50 L562.43,155.34 L563.95,153.12 L565.12,150.73 L566.50,148.00 L568.20,144.77 L569.93,141.16 L571.67,137.46 L573.40,134.00 L575.15,130.66 L576.92,127.34 L578.63,124.36 L580.20,122.00 L581.42,120.41 L582.39,119.39 L583.51,118.81 L585.20,118.50 L587.60,118.44 L590.48,118.71 L593.67,119.29 L597.00,120.20 L600.61,121.54 L604.54,123.27 L608.43,125.17 L611.90,127.00 L614.86,128.76 L617.49,130.55 L619.91,132.32 L622.20,134.00 L624.35,135.48 L626.32,136.83 L628.18,138.26 L630.00,140.00 L631.78,142.22 L633.50,144.77 L635.17,147.36 L636.80,149.70 L638.10,151.82 L639.17,153.83 L640.60,155.60 L643.00,157.00 L646.70,157.87 L651.33,158.32 L656.41,158.62 L661.50,159.00 L667.07,159.57 L673.16,160.18 L678.67,160.72 L682.50,161.10" fill="none" stroke="rgba(70,70,72,0.6)" stroke-width="0.8"/>
<path d="M415.00,174.00 L416.31,174.34 L418.16,174.82 L420.43,175.44 L423.00,176.20 L425.96,177.20 L429.32,178.40 L432.90,179.63 L436.50,180.70 L440.26,181.63 L444.23,182.49 L448.06,183.20 L451.40,183.70 L454.05,183.79 L456.23,183.56 L458.25,183.38 L460.40,183.60 L462.69,184.45 L464.99,185.70 L467.39,187.00 L470.00,188.00 L472.86,188.72 L475.92,189.30 L479.11,189.61 L482.40,189.50 L485.56,188.76 L488.68,187.52 L492.19,186.18 L496.50,185.10 L502.02,184.53 L508.44,184.22 L515.06,183.83 L521.20,183.00 L526.72,181.57 L531.96,179.76 L537.00,177.76 L541.90,175.80 L546.64,174.23 L551.19,172.83 L555.63,170.96 L560.00,168.00 L564.49,163.22 L569.01,157.14 L573.22,150.99 L576.80,146.00 L579.53,142.53 L581.62,139.91 L583.41,137.83 L585.20,136.00 L586.98,134.35 L588.62,133.03 L590.25,132.07 L592.00,131.50 L593.82,131.33 L595.68,131.56 L597.70,132.13 L600.00,133.00 L602.74,134.28 L605.81,135.94 L608.95,137.79 L611.90,139.60 L614.44,141.14 L616.75,142.59 L619.21,144.35 L622.20,146.80 L625.98,150.37 L630.29,154.75 L634.74,159.23 L638.90,163.10 L642.76,166.29 L646.50,169.13 L650.04,171.56 L653.30,173.50 L655.96,174.81 L658.17,175.56 L660.52,176.03 L663.60,176.50 L668.16,177.02 L673.69,177.44 L678.90,177.77 L682.50,178.00" fill="none" stroke="rgba(70,70,72,0.6)" stroke-width="0.8"/>
<path d="M415.00,168.00 L416.41,168.39 L418.44,168.96 L420.74,169.59 L423.00,170.20 L425.11,170.66 L427.25,171.07 L429.52,171.61 L432.00,172.50 L434.83,173.93 L437.91,175.76 L441.04,177.63 L444.00,179.20 L446.82,180.44 L449.57,181.51 L452.15,182.37 L454.40,183.00 L456.15,183.23 L457.51,183.13 L458.82,183.02 L460.40,183.20 L462.31,183.87 L464.39,184.81 L466.62,185.78 L469.00,186.50 L471.45,187.02 L474.01,187.44 L476.81,187.59 L480.00,187.30 L483.79,186.33 L488.04,184.83 L492.39,183.24 L496.50,182.00 L500.10,181.37 L503.44,181.07 L506.91,180.71 L510.90,179.90 L515.71,178.41 L521.07,176.49 L526.49,174.48 L531.50,172.70 L535.96,171.38 L540.14,170.30 L544.12,169.12 L548.00,167.50 L551.87,165.42 L555.65,163.04 L559.21,160.29 L562.40,157.10 L565.14,153.14 L567.53,148.56 L569.67,143.97 L571.70,140.00 L573.58,136.78 L575.26,133.99 L576.87,131.58 L578.50,129.50 L580.10,127.73 L581.64,126.29 L583.28,125.21 L585.20,124.50 L587.51,124.23 L590.09,124.38 L592.77,124.78 L595.40,125.30 L597.95,125.93 L600.49,126.75 L603.02,127.69 L605.50,128.70 L607.92,129.70 L610.29,130.75 L612.65,131.97 L615.00,133.50 L617.24,135.30 L619.39,137.33 L621.69,139.69 L624.40,142.50 L627.67,146.06 L631.34,150.23 L635.16,154.41 L638.90,158.00 L642.51,160.93 L646.11,163.49 L649.70,165.63 L653.30,167.30 L656.89,168.26 L660.48,168.62 L664.07,168.82 L667.70,169.30 L671.72,170.29 L676.00,171.53 L679.83,172.69 L682.50,173.50" fill="none" stroke="#3f3f3f" stroke-width="0.95"/>
<path d="M415.00,156.00 L416.52,156.50 L418.72,157.22 L421.06,158.07 L423.00,159.00 L424.34,159.98 L425.38,161.06 L426.35,162.23 L427.50,163.50 L428.79,164.93 L430.12,166.50 L431.65,168.07 L433.50,169.50 L435.84,170.75 L438.56,171.89 L441.38,172.97 L444.00,174.00 L446.39,174.96 L448.69,175.84 L450.90,176.72 L453.00,177.70 L454.97,178.85 L456.81,180.11 L458.60,181.34 L460.40,182.40 L462.19,183.30 L463.94,184.09 L465.73,184.74 L467.60,185.20 L469.55,185.47 L471.56,185.57 L473.66,185.48 L475.90,185.20 L478.39,184.59 L481.08,183.71 L483.75,182.80 L486.20,182.10 L488.35,181.80 L490.33,181.74 L492.19,181.60 L494.00,181.10 L495.65,180.03 L497.14,178.58 L498.72,177.07 L500.60,175.80 L502.91,174.94 L505.52,174.31 L508.24,173.64 L510.90,172.70 L513.43,171.34 L515.92,169.73 L518.48,168.05 L521.20,166.50 L524.15,165.08 L527.27,163.71 L530.45,162.43 L533.60,161.30 L536.83,160.38 L540.14,159.63 L543.28,158.93 L546.00,158.20 L548.13,157.45 L549.84,156.72 L551.38,155.93 L553.00,155.00 L554.76,153.96 L556.53,152.83 L558.29,151.54 L560.00,150.00 L561.68,148.10 L563.34,145.91 L564.96,143.64 L566.50,141.50 L567.93,139.54 L569.28,137.66 L570.61,135.82 L572.00,134.00 L573.49,132.21 L575.03,130.47 L576.56,128.74 L578.00,127.00 L579.32,125.27 L580.56,123.56 L581.77,121.82 L583.00,120.00 L584.25,118.08 L585.51,116.10 L586.76,114.07 L588.00,112.00 L589.14,110.02 L590.21,108.08 L591.37,105.94 L592.80,103.40 L594.61,100.14 L596.70,96.38 L598.86,92.62 L600.90,89.40 L602.81,86.60 L604.68,84.04 L606.46,82.10 L608.10,81.20 L609.52,81.71 L610.76,83.34 L611.98,85.44 L613.30,87.40 L614.78,89.08 L616.34,90.81 L617.93,92.63 L619.50,94.60 L621.05,96.76 L622.60,99.07 L624.15,101.47 L625.70,103.90 L627.28,106.35 L628.87,108.84 L630.43,111.39 L631.90,114.00 L633.27,116.71 L634.56,119.51 L635.79,122.30 L637.00,125.00 L638.17,127.73 L639.29,130.50 L640.39,133.02 L641.50,135.00 L642.56,136.30 L643.57,137.10 L644.68,137.60 L646.00,138.00 L647.61,138.15 L649.42,138.00 L651.35,137.95 L653.30,138.40 L655.28,139.54 L657.34,141.14 L659.42,142.91 L661.50,144.60 L663.46,146.32 L665.37,148.16 L667.41,149.76 L669.80,150.80 L672.96,151.01 L676.67,150.64 L680.11,150.07 L682.50,149.70 L682.50,181.00 L681.49,180.93 L680.05,180.85 L678.38,180.69 L676.70,180.40 L675.05,180.06 L673.33,179.66 L671.49,179.04 L669.50,178.00 L667.25,176.37 L664.80,174.29 L662.32,172.06 L660.00,170.00 L657.92,168.18 L655.97,166.44 L654.04,164.73 L652.00,163.00 L649.77,161.30 L647.44,159.62 L645.13,157.89 L643.00,156.00 L641.09,153.89 L639.31,151.62 L637.63,149.30 L636.00,147.00 L634.42,144.77 L632.90,142.56 L631.43,140.32 L630.00,138.00 L628.60,135.51 L627.24,132.91 L625.91,130.35 L624.60,128.00 L623.33,125.95 L622.10,124.09 L620.85,122.29 L619.50,120.40 L617.98,118.23 L616.34,115.90 L614.73,113.75 L613.30,112.10 L612.13,111.04 L611.13,110.40 L610.18,110.11 L609.20,110.10 L608.22,110.34 L607.28,110.86 L606.25,111.73 L605.00,113.00 L603.40,114.82 L601.55,117.12 L599.67,119.61 L598.00,122.00 L596.61,124.20 L595.38,126.38 L594.20,128.61 L593.00,131.00 L591.76,133.66 L590.53,136.50 L589.29,139.34 L588.00,142.00 L586.71,144.27 L585.41,146.31 L584.03,148.45 L582.50,151.00 L580.75,154.36 L578.84,158.25 L576.89,162.02 L575.00,165.00 L573.24,166.86 L571.53,168.01 L569.81,168.90 L568.00,170.00 L566.11,171.48 L564.18,173.09 L562.16,174.60 L560.00,175.80 L557.72,176.54 L555.32,176.97 L552.80,177.31 L550.10,177.80 L547.17,178.47 L544.05,179.21 L540.85,180.02 L537.70,180.90 L534.47,181.83 L531.16,182.81 L528.04,183.89 L525.40,185.10 L523.47,186.59 L522.05,188.28 L520.75,189.91 L519.20,191.20 L517.27,191.91 L515.17,192.24 L513.02,192.58 L510.90,193.30 L508.80,194.68 L506.67,196.47 L504.61,198.22 L502.70,199.50 L500.96,200.24 L499.34,200.64 L497.86,200.73 L496.50,200.50 L495.38,199.81 L494.45,198.69 L493.52,197.46 L492.40,196.40 L491.09,195.52 L489.69,194.69 L488.09,193.99 L486.20,193.50 L483.87,193.39 L481.18,193.58 L478.43,193.73 L475.90,193.50 L473.66,192.78 L471.56,191.76 L469.55,190.56 L467.60,189.30 L465.76,187.82 L464.04,186.13 L462.30,184.57 L460.40,183.50 L458.24,183.17 L455.91,183.33 L453.58,183.63 L451.40,183.70 L449.47,183.46 L447.70,183.10 L445.93,182.66 L444.00,182.20 L441.79,181.71 L439.41,181.16 L437.08,180.59 L435.00,180.00 L433.29,179.42 L431.81,178.83 L430.43,178.20 L429.00,177.50 L427.55,176.68 L426.12,175.78 L424.64,174.86 L423.00,174.00 L420.95,173.14 L418.62,172.28 L416.48,171.53 L415.00,171.00 Z" fill="rgba(225,150,145,0.45)" stroke="none"/>
<path d="M415.00,156.00 L416.52,156.50 L418.72,157.22 L421.06,158.07 L423.00,159.00 L424.34,159.98 L425.38,161.06 L426.35,162.23 L427.50,163.50 L428.79,164.93 L430.12,166.50 L431.65,168.07 L433.50,169.50 L435.84,170.75 L438.56,171.89 L441.38,172.97 L444.00,174.00 L446.39,174.96 L448.69,175.84 L450.90,176.72 L453.00,177.70 L454.97,178.85 L456.81,180.11 L458.60,181.34 L460.40,182.40 L462.19,183.30 L463.94,184.09 L465.73,184.74 L467.60,185.20 L469.55,185.47 L471.56,185.57 L473.66,185.48 L475.90,185.20 L478.39,184.59 L481.08,183.71 L483.75,182.80 L486.20,182.10 L488.35,181.80 L490.33,181.74 L492.19,181.60 L494.00,181.10 L495.65,180.03 L497.14,178.58 L498.72,177.07 L500.60,175.80 L502.91,174.94 L505.52,174.31 L508.24,173.64 L510.90,172.70 L513.43,171.34 L515.92,169.73 L518.48,168.05 L521.20,166.50 L524.15,165.08 L527.27,163.71 L530.45,162.43 L533.60,161.30 L536.83,160.38 L540.14,159.63 L543.28,158.93 L546.00,158.20 L548.13,157.45 L549.84,156.72 L551.38,155.93 L553.00,155.00 L554.76,153.96 L556.53,152.83 L558.29,151.54 L560.00,150.00 L561.68,148.10 L563.34,145.91 L564.96,143.64 L566.50,141.50 L567.93,139.54 L569.28,137.66 L570.61,135.82 L572.00,134.00 L573.49,132.21 L575.03,130.47 L576.56,128.74 L578.00,127.00 L579.32,125.27 L580.56,123.56 L581.77,121.82 L583.00,120.00 L584.25,118.08 L585.51,116.10 L586.76,114.07 L588.00,112.00 L589.14,110.02 L590.21,108.08 L591.37,105.94 L592.80,103.40 L594.61,100.14 L596.70,96.38 L598.86,92.62 L600.90,89.40 L602.81,86.60 L604.68,84.04 L606.46,82.10 L608.10,81.20 L609.52,81.71 L610.76,83.34 L611.98,85.44 L613.30,87.40 L614.78,89.08 L616.34,90.81 L617.93,92.63 L619.50,94.60 L621.05,96.76 L622.60,99.07 L624.15,101.47 L625.70,103.90 L627.28,106.35 L628.87,108.84 L630.43,111.39 L631.90,114.00 L633.27,116.71 L634.56,119.51 L635.79,122.30 L637.00,125.00 L638.17,127.73 L639.29,130.50 L640.39,133.02 L641.50,135.00 L642.56,136.30 L643.57,137.10 L644.68,137.60 L646.00,138.00 L647.61,138.15 L649.42,138.00 L651.35,137.95 L653.30,138.40 L655.28,139.54 L657.34,141.14 L659.42,142.91 L661.50,144.60 L663.46,146.32 L665.37,148.16 L667.41,149.76 L669.80,150.80 L672.96,151.01 L676.67,150.64 L680.11,150.07 L682.50,149.70" fill="none" stroke="rgba(205,105,100,0.6)" stroke-width="0.8"/>
<path d="M415.00,171.00 L416.48,171.53 L418.62,172.28 L420.95,173.14 L423.00,174.00 L424.64,174.86 L426.12,175.78 L427.55,176.68 L429.00,177.50 L430.43,178.20 L431.81,178.83 L433.29,179.42 L435.00,180.00 L437.08,180.59 L439.41,181.16 L441.79,181.71 L444.00,182.20 L445.93,182.66 L447.70,183.10 L449.47,183.46 L451.40,183.70 L453.58,183.63 L455.91,183.33 L458.24,183.17 L460.40,183.50 L462.30,184.57 L464.04,186.13 L465.76,187.82 L467.60,189.30 L469.55,190.56 L471.56,191.76 L473.66,192.78 L475.90,193.50 L478.43,193.73 L481.18,193.58 L483.87,193.39 L486.20,193.50 L488.09,193.99 L489.69,194.69 L491.09,195.52 L492.40,196.40 L493.52,197.46 L494.45,198.69 L495.38,199.81 L496.50,200.50 L497.86,200.73 L499.34,200.64 L500.96,200.24 L502.70,199.50 L504.61,198.22 L506.67,196.47 L508.80,194.68 L510.90,193.30 L513.02,192.58 L515.17,192.24 L517.27,191.91 L519.20,191.20 L520.75,189.91 L522.05,188.28 L523.47,186.59 L525.40,185.10 L528.04,183.89 L531.16,182.81 L534.47,181.83 L537.70,180.90 L540.85,180.02 L544.05,179.21 L547.17,178.47 L550.10,177.80 L552.80,177.31 L555.32,176.97 L557.72,176.54 L560.00,175.80 L562.16,174.60 L564.18,173.09 L566.11,171.48 L568.00,170.00 L569.81,168.90 L571.53,168.01 L573.24,166.86 L575.00,165.00 L576.89,162.02 L578.84,158.25 L580.75,154.36 L582.50,151.00 L584.03,148.45 L585.41,146.31 L586.71,144.27 L588.00,142.00 L589.29,139.34 L590.53,136.50 L591.76,133.66 L593.00,131.00 L594.20,128.61 L595.38,126.38 L596.61,124.20 L598.00,122.00 L599.67,119.61 L601.55,117.12 L603.40,114.82 L605.00,113.00 L606.25,111.73 L607.28,110.86 L608.22,110.34 L609.20,110.10 L610.18,110.11 L611.13,110.40 L612.13,111.04 L613.30,112.10 L614.73,113.75 L616.34,115.90 L617.98,118.23 L619.50,120.40 L620.85,122.29 L622.10,124.09 L623.33,125.95 L624.60,128.00 L625.91,130.35 L627.24,132.91 L628.60,135.51 L630.00,138.00 L631.43,140.32 L632.90,142.56 L634.42,144.77 L636.00,147.00 L637.63,149.30 L639.31,151.62 L641.09,153.89 L643.00,156.00 L645.13,157.89 L647.44,159.62 L649.77,161.30 L652.00,163.00 L654.04,164.73 L655.97,166.44 L657.92,168.18 L660.00,170.00 L662.32,172.06 L664.80,174.29 L667.25,176.37 L669.50,178.00 L671.49,179.04 L673.33,179.66 L675.05,180.06 L676.70,180.40 L678.38,180.69 L680.05,180.85 L681.49,180.93 L682.50,181.00" fill="none" stroke="rgba(205,105,100,0.6)" stroke-width="0.8"/>
<path d="M415.00,164.20 L416.48,164.40 L418.62,164.67 L420.95,165.08 L423.00,165.70 L424.61,166.67 L426.03,167.90 L427.44,169.16 L429.00,170.20 L430.77,170.90 L432.66,171.40 L434.59,171.88 L436.50,172.50 L438.31,173.31 L440.07,174.21 L441.92,175.19 L444.00,176.20 L446.50,177.33 L449.29,178.56 L452.04,179.73 L454.40,180.70 L456.18,181.31 L457.60,181.69 L458.92,182.08 L460.40,182.70 L461.99,183.73 L463.60,185.00 L465.41,186.27 L467.60,187.30 L470.38,188.08 L473.61,188.73 L476.93,189.16 L480.00,189.30 L482.82,188.87 L485.54,188.00 L488.06,187.23 L490.30,187.10 L492.14,188.00 L493.66,189.56 L495.05,191.19 L496.50,192.30 L498.10,192.79 L499.73,192.95 L501.30,192.79 L502.70,192.30 L503.82,191.39 L504.75,190.09 L505.68,188.59 L506.80,187.10 L508.06,185.57 L509.38,183.93 L510.96,182.33 L513.00,180.90 L515.76,179.75 L519.07,178.79 L522.45,177.85 L525.40,176.80 L527.65,175.50 L529.50,174.07 L531.35,172.70 L533.60,171.60 L536.44,170.94 L539.62,170.56 L542.90,170.21 L546.00,169.60 L548.95,168.67 L551.87,167.55 L554.60,166.31 L557.00,165.00 L558.92,163.65 L560.47,162.21 L561.91,160.67 L563.50,159.00 L565.38,157.05 L567.38,154.88 L569.31,152.77 L571.00,151.00 L572.35,149.72 L573.47,148.75 L574.48,147.91 L575.50,147.00 L576.53,146.09 L577.52,145.25 L578.50,144.28 L579.50,143.00 L580.49,141.33 L581.48,139.38 L582.50,137.23 L583.60,135.00 L584.81,132.71 L586.11,130.31 L587.45,127.76 L588.80,125.00 L590.15,121.94 L591.51,118.62 L592.92,115.25 L594.40,112.00 L596.04,108.74 L597.80,105.44 L599.51,102.41 L601.00,100.00 L602.18,98.38 L603.15,97.34 L604.05,96.63 L605.00,96.00 L606.04,95.29 L607.09,94.66 L608.15,94.35 L609.20,94.60 L610.23,95.66 L611.26,97.36 L612.28,99.22 L613.30,100.80 L614.32,102.02 L615.35,103.11 L616.37,104.06 L617.40,104.90 L618.38,105.37 L619.32,105.56 L620.33,105.95 L621.50,107.00 L622.90,108.94 L624.47,111.49 L626.10,114.36 L627.70,117.30 L629.31,120.37 L630.96,123.67 L632.53,126.96 L633.90,130.00 L634.94,132.67 L635.74,135.12 L636.53,137.51 L637.50,140.00 L638.63,142.87 L639.83,145.96 L641.24,148.77 L643.00,150.80 L645.29,151.62 L647.98,151.59 L650.76,151.41 L653.30,151.80 L655.50,152.96 L657.52,154.51 L659.49,156.26 L661.50,158.00 L663.46,159.92 L665.37,162.05 L667.41,163.95 L669.80,165.20 L672.96,165.50 L676.67,165.15 L680.11,164.57 L682.50,164.20" fill="none" stroke="#d4605c" stroke-width="0.95"/>
<rect x="61.5" y="32.5" width="97.0" height="24" fill="#fff" stroke="#b4b4b4" stroke-width="1"/><line x1="63.6" y1="38.5" x2="81.9" y2="38.5" stroke="#6aa9a8" stroke-width="1"/><line x1="63.6" y1="50.5" x2="81.9" y2="50.5" stroke="#555" stroke-width="1"/><text x="84.2" y="42.4" class="lg">Oddball Stimuli</text><text x="84.2" y="53.9" class="lg">Standard Stimuli</text><rect x="419.5" y="32.5" width="98.0" height="24" fill="#fff" stroke="#b4b4b4" stroke-width="1"/><line x1="421.6" y1="38.5" x2="439.9" y2="38.5" stroke="#e38c8a" stroke-width="1"/><line x1="421.6" y1="50.5" x2="439.9" y2="50.5" stroke="#555" stroke-width="1"/><text x="442.2" y="42.4" class="lg">Oddball Stimuli</text><text x="442.2" y="53.9" class="lg">Standard Stimuli</text><text class="big" transform="translate(-0.6,13.75) scale(0.95,1)" style="font-size:20.5px;stroke:#333;stroke-width:0.5px">A</text><text x="30.5" y="13.75" class="title" text-anchor="start" >Above-median Group</text><text class="big" transform="translate(355.2,13.7) scale(0.95,1)" style="font-size:19.6px;stroke:#333;stroke-width:0.5px">B</text><text x="385.2" y="13.75" class="title" text-anchor="start" >Below-median Group</text><text x="103.0" y="264.5" class="xl" text-anchor="start" >Time Since Presentation Onset [s]</text><text x="462.7" y="264.5" class="xl" text-anchor="start" >Time Since Presentation Onset [s]</text><text class="xl" transform="translate(23.6,211.8) rotate(-90)">Change in Pupil Diameter [mm]</text><text class="xl" transform="translate(382.2,211.8) rotate(-90)">Change in Pupil Diameter [mm]</text><text x="318.4" y="233" class="ann" text-anchor="end" xml:space="preserve">N=10,  Mean=16.2,  <tspan font-style="italic">S.D.</tspan>= 2.5298</text><text x="676.6" y="233" class="ann" text-anchor="end" xml:space="preserve">N=10,  Mean=10.6,  <tspan font-style="italic">S.D.</tspan>= 2.3664</text><rect x="699.7" y="204" width="13.3" height="13.1" fill="#909396"/><rect x="699.7" y="222.7" width="13.3" height="13.1" fill="#c6c7ca"/><text x="720.2" y="215.3" class="pl" text-anchor="start" font-style="italic">p</text><text x="729.4" y="215.3" class="pl" text-anchor="start" font-size="11.8px">&lt;</text><text x="739.2" y="215.3" class="pl" text-anchor="start" >0.01</text><text x="720.2" y="233.5" class="pl" text-anchor="start" font-style="italic">p</text><text x="729.4" y="233.5" class="pl" text-anchor="start" font-size="11.8px">&lt;</text><text x="739.2" y="233.5" class="pl" text-anchor="start" >0.05</text></svg>
</body></html>
